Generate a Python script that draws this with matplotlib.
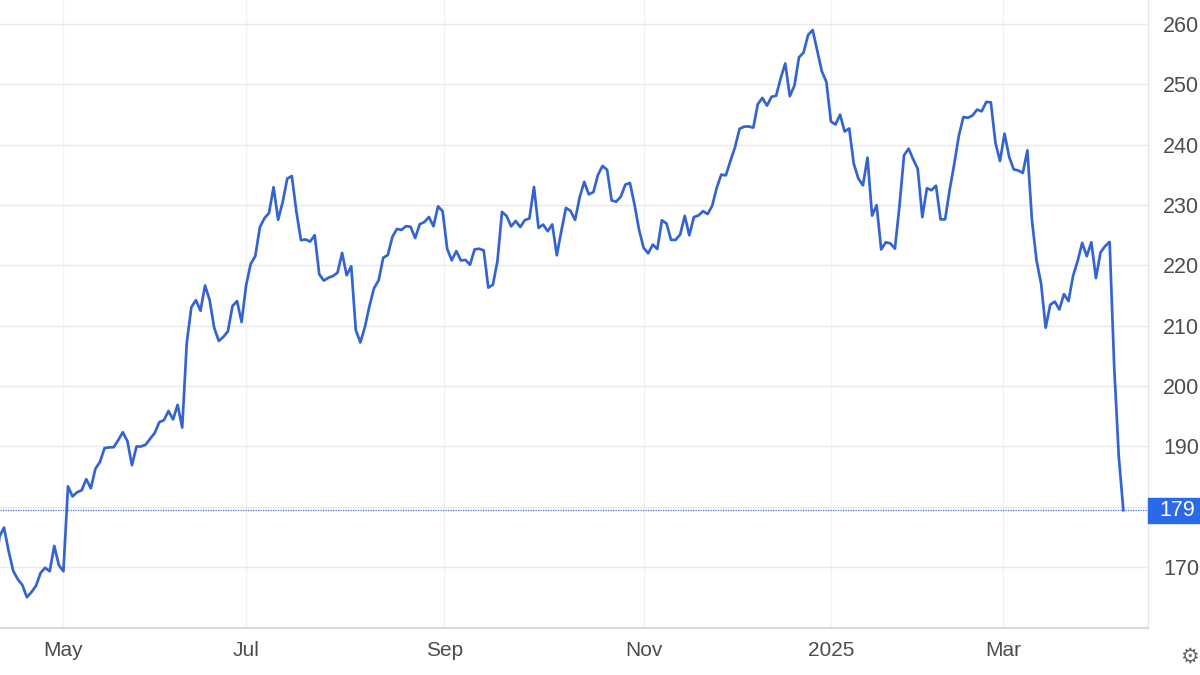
import matplotlib
matplotlib.use("Agg")
import matplotlib.pyplot as plt
import numpy as np

# ---- data (one value per trading session shown on the chart) ----
apr_2024 = [167.78, 175.04, 176.55, 172.69, 169.38, 168.00, 167.04, 165.00, 165.84,
            166.90, 169.02, 169.89, 169.30, 173.50, 170.33]
may_2024 = [169.30, 183.38, 181.71, 182.40, 182.74, 184.57, 183.05, 186.28, 187.43,
            189.72, 189.84, 189.87, 191.04, 192.35, 190.90, 186.88, 189.98, 189.99,
            190.29, 191.29, 192.25]
jun_2024 = [194.03, 194.35, 195.87, 194.48, 196.89, 193.12, 207.15, 213.07, 214.24,
            212.49, 216.67, 214.29, 209.68, 207.49, 208.14, 209.07, 213.25, 214.10, 210.62]
jul_2024 = [216.75, 220.27, 221.55, 226.34, 227.82, 228.68, 232.98, 227.57, 230.54,
            234.40, 234.82, 228.88, 224.18, 224.31, 223.96, 225.01, 218.54, 217.49,
            217.96, 218.24, 218.80, 222.08]
aug_2024 = [218.36, 219.86, 209.27, 207.23, 209.82, 213.31, 216.24, 217.53, 221.27,
            221.72, 224.72, 226.05, 225.89, 226.51, 226.40, 224.53, 226.84, 227.18,
            228.03, 226.49, 229.79, 229.00]
sep_2024 = [222.77, 220.85, 222.38, 220.82, 220.91, 220.11, 222.66, 222.77, 222.50,
            216.32, 216.79, 220.69, 228.87, 228.20, 226.47, 227.37, 226.37, 227.52,
            227.79, 233.00]
oct_2024 = [226.21, 226.78, 225.67, 226.80, 221.69, 225.77, 229.54, 229.04, 227.55,
            231.30, 233.85, 231.78, 232.15, 235.00, 236.48, 235.86, 230.76, 230.57,
            231.41, 233.40, 233.67, 230.10, 225.91]
nov_2024 = [222.91, 222.01, 223.45, 222.72, 227.48, 226.96, 224.23, 224.23, 225.12,
            228.22, 225.00, 228.02, 228.28, 229.00, 228.52, 229.87, 232.87, 235.06,
            234.93, 237.33]
dec_2024 = [239.59, 242.65, 243.01, 243.04, 242.84, 246.75, 247.77, 246.49, 247.96,
            248.13, 251.04, 253.48, 248.05, 249.79, 254.49, 255.27, 258.20, 259.02,
            255.59, 252.20, 250.42]
jan_2025 = [243.85, 243.36, 245.00, 242.21, 242.70, 236.85, 234.40, 233.28, 237.87,
            228.26, 229.98, 222.64, 223.83, 223.66, 222.78, 229.86, 238.26, 239.36,
            237.59, 236.00]
feb_2025 = [228.01, 232.80, 232.47, 233.22, 227.63, 227.65, 232.62, 236.87, 241.53,
            244.60, 244.47, 244.87, 245.83, 245.55, 247.10, 247.04, 240.36, 237.30, 241.84]
mar_2025 = [238.03, 235.93, 235.74, 235.33, 239.07, 227.48, 220.84, 216.98, 209.68,
            213.49, 214.00, 212.69, 215.24, 214.10, 218.27, 220.73, 223.75, 221.53,
            223.85, 217.90, 222.13]
apr_2025 = [223.19, 223.89, 203.19, 188.38, 179.43]

month_labels = ["May", "Jul", "Sep", "Nov", "2025", "Mar"]
month_tick_sessions = [15, 55, 98.4, 142, 183, 220.7]   # session index where each label sits
y_ticks = [170, 180, 190, 200, 210, 220, 230, 240, 250, 260]
y_tick_labels = ["170", "", "190", "200", "210", "220", "230", "240", "250", "260"]
last_label = "179"

prices = np.array(apr_2024 + may_2024 + jun_2024 + jul_2024 + aug_2024 + sep_2024 +
                  oct_2024 + nov_2024 + dec_2024 + jan_2025 + feb_2025 + mar_2025 + apr_2025)
sessions = np.arange(len(prices))
last = prices[-1]

# ---- styling ----
W, H = 1200, 675
LINE = "#3463d2"
TXT = "#4d4d4d"
plt.rcParams['font.family'] = ['Liberation Sans', 'DejaVu Sans']

fig = plt.figure(figsize=(W / 100, H / 100), dpi=100)
fig.patch.set_facecolor("white")
ax_right_px = 1148
ax_bottom_px = 628
ax = fig.add_axes([0, 1 - ax_bottom_px / H, ax_right_px / W, ax_bottom_px / H])

ax.plot(sessions, prices, color=LINE, lw=1.95, solid_joinstyle="round", zorder=3)
ax.axhline(last, color="#4a6fd8", lw=0.9, ls=(0, (1, 1)), zorder=2)

ax.set_xlim(1.12, 252.4)
ax.set_ylim(159.9, 264.0)

ax.set_yticks(y_ticks)
ax.set_yticklabels(y_tick_labels)
ax.yaxis.tick_right()
ax.tick_params(axis="y", length=0, pad=11, labelsize=15.5, labelcolor=TXT)
ax.set_xticks(month_tick_sessions)
ax.set_xticklabels(month_labels)
ax.tick_params(axis="x", length=0, pad=9, labelsize=15, labelcolor=TXT)

ax.grid(axis="y", color="#e9e9e9", lw=1.0, zorder=0)
ax.grid(axis="x", color="#f3f3f3", lw=1.0, zorder=0)

for s in ["top", "left"]:
    ax.spines[s].set_visible(False)
ax.spines["right"].set_color("#e6e6e6")
ax.spines["right"].set_linewidth(1.0)
ax.spines["bottom"].set_color("#d9d9d9")
ax.spines["bottom"].set_linewidth(1.6)

# last-price label box on the right axis
y_last_fig = ax.transData.transform((0, last))[1] / H
box_h = 25 / H
fig.patches.append(plt.Rectangle((ax_right_px / W, y_last_fig - box_h / 2),
                                 (W - ax_right_px) / W, box_h,
                                 transform=fig.transFigure, color="#2a6ae8", zorder=5))
fig.text(1159 / W, y_last_fig, last_label, color="white", fontsize=15.5,
         va="center", ha="left", zorder=6)

# settings gear glyph bottom-right
fig.text(1189 / W, 1 - 657 / H, "\u2699", family=["DejaVu Sans"], color="#666666",
         fontsize=15, ha="center", va="center")

fig.savefig("out.png", dpi=100, facecolor="white")
